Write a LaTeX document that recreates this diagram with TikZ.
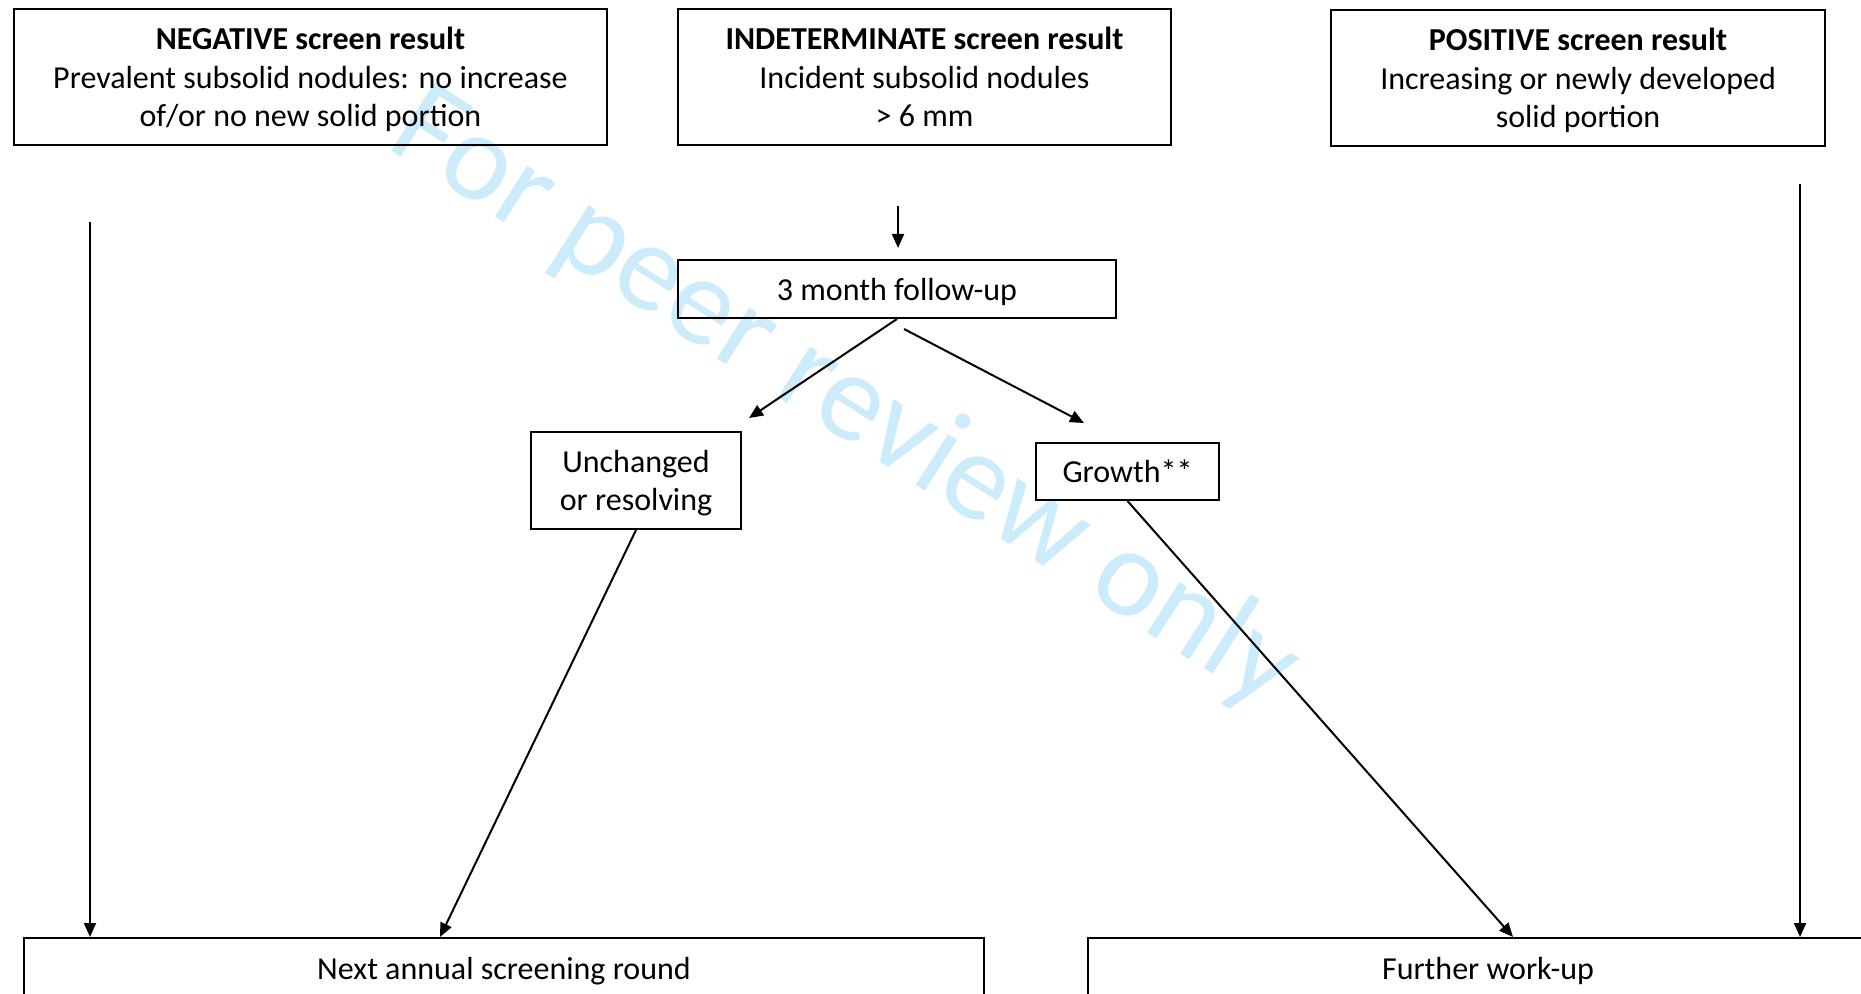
\documentclass[tikz,border=0pt]{standalone}
\usepackage{fontspec}
\setmainfont{Carlito}
\usetikzlibrary{arrows.meta}
\definecolor{peerblue}{RGB}{204,236,252}

\begin{document}
\begin{tikzpicture}[x=0.5pt,y=-0.5pt,
  box/.style={draw,line width=1pt,inner sep=0pt,align=center,text depth=0pt,font=\fontsize{16}{19.3}\selectfont},
  arr/.style={line width=1pt,-{Triangle[length=7pt,width=6pt]}}]
\clip (0,0) rectangle (1861,994);
\node [text=peerblue,rotate=-32.5,font=\fontsize{63}{63}\selectfont] (mark) at (845,400) {For peer review only};

\node [box,minimum width=296.5pt,minimum height=68pt] (neg) at (310.5,77)
{\textbf{NEGATIVE screen result}\\Prevalent subsolid nodules: no increase\\of/or no new solid portion};
\node [box,minimum width=246.5pt,minimum height=68pt] (ind) at (924.5,77)
{\textbf{INDETERMINATE screen result}\\Incident subsolid nodules\\> 6 mm};
\node [box,minimum width=247pt,minimum height=68pt] (pos) at (1578,78)
{\textbf{POSITIVE screen result}\\Increasing or newly developed\\solid portion};

\node [box,minimum width=219pt,minimum height=29pt] (fol) at (897,289) {3 month follow-up};
\node [box,minimum width=105pt,minimum height=48.5pt] (unch) at (636,480.5) {Unchanged\\or resolving};
\node [box,minimum width=91.5pt,minimum height=28.5pt] (grow) at (1127.5,471.5) {Growth**};

\node [box,minimum width=480pt,minimum height=30pt] (next) at (504,968) {Next annual screening round};
\node [box,minimum width=400pt,minimum height=30pt] (fur) at (1488,968) {Further work-up};

% free ends
\coordinate (indout) at (898,206);
\coordinate (negout) at (90,222);
\coordinate (posout) at (1800,184);

\draw [arr] (indout) -- ([yshift=5.5pt]fol.north -| indout);
\draw [arr] (fol.south) -- ([xshift=3.5pt,yshift=6.5pt]unch.north east);
\draw [arr] ([xshift=3.5pt,yshift=-5pt]fol.south) -- ([xshift=-21.75pt,yshift=9.5pt]grow.north);
\draw [arr] (unch.south) -- ([xshift=-32pt]next.north);
\draw [arr] (grow.south) -- ([xshift=12.5pt]fur.north);
\draw [arr] (negout) -- (negout |- next.north);
\draw [arr] (posout) -- (posout |- fur.north);
\end{tikzpicture}
\end{document}
